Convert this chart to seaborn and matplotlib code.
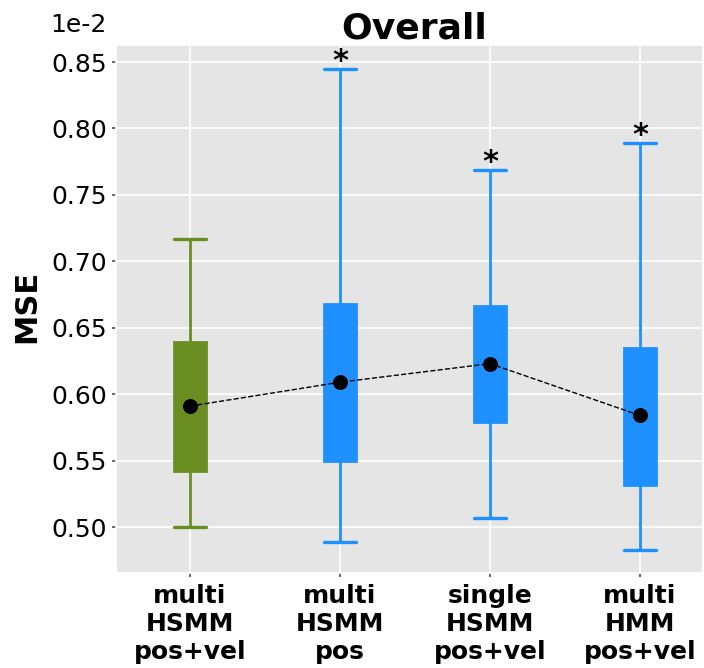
import pandas as pd
import seaborn as sns
import matplotlib.pyplot as plt

# values are in units of 1e-2
methods = ["multi\nHSMM\npos+vel", "multi\nHSMM\npos", "single\nHSMM\npos+vel", "multi\nHMM\npos+vel"]
whisker_low = [0.500, 0.489, 0.507, 0.483]
q1 = [0.542, 0.550, 0.579, 0.532]
q3 = [0.639, 0.668, 0.666, 0.635]
whisker_high = [0.717, 0.845, 0.769, 0.789]
means = [0.591, 0.609, 0.623, 0.584]
significant = [False, True, True, True]
colors = ["#6B8E23", "#1E90FF", "#1E90FF", "#1E90FF"]

# five-number rows per method so the box edges land on the quartiles
rows = []
for m, lo, a, b, hi in zip(methods, whisker_low, q1, q3, whisker_high):
    for v in [lo, a, (a + b) / 2, b, hi]:
        rows.append({"method": m, "mse": v})
df = pd.DataFrame(rows)

sns.set_theme(style="darkgrid", rc={
    "axes.facecolor": "#E5E5E5",
    "grid.color": "white",
    "grid.linewidth": 1.2,
    "xtick.bottom": True,
    "ytick.left": True,
    "xtick.major.size": 3,
    "ytick.major.size": 3,
    "xtick.color": "#555555",
    "ytick.color": "#555555",
    "xtick.labelcolor": "black",
    "ytick.labelcolor": "black",
    "text.color": "black",
    "axes.labelcolor": "black",
})
plt.rcParams['font.family'] = ['DejaVu Sans']

fig = plt.figure(figsize=(7.04, 6.68), dpi=100)
ax = fig.add_axes([0.1648, 0.1422, 0.8338, 0.7904])

for m, c in zip(methods, colors):
    sns.boxplot(
        data=df[df["method"] == m],
        x="method",
        y="mse",
        order=methods,
        color=c,
        linecolor=c,
        saturation=1,
        width=0.21,
        whis=(0, 100),
        linewidth=2,
        medianprops={"visible": False},
        showfliers=False,
        ax=ax,
    )

# caps as wide as the boxes
for line in ax.lines:
    xd = line.get_xdata()
    if len(xd) == 2 and xd[0] != xd[1]:
        mid = (xd[0] + xd[1]) / 2
        line.set_xdata([mid - 0.105, mid + 0.105])
        line.set_linewidth(2.4)

sns.pointplot(
    x=methods,
    y=means,
    order=methods,
    color="black",
    linestyle="--",
    linewidth=1,
    markersize=10,
    markeredgecolor="black",
    errorbar=None,
    zorder=5,
    ax=ax,
)

for i, (top, sig) in enumerate(zip(whisker_high, significant)):
    if sig:
        ax.annotate("*", (i, top), xytext=(0, -5), textcoords="offset points",
                    ha="center", va="bottom", fontsize=22, fontweight="bold")

ax.set_xlim(-0.493, 3.42)
ax.set_ylim(0.4654, 0.8628)
ax.xaxis.grid(True)
ax.yaxis.grid(True)
ax.set_axisbelow(True)
ax.set_yticks([0.50, 0.55, 0.60, 0.65, 0.70, 0.75, 0.80, 0.85])
ax.set_yticklabels([f"{v:.2f}" for v in [0.50, 0.55, 0.60, 0.65, 0.70, 0.75, 0.80, 0.85]])
ax.tick_params(axis="y", labelsize=18)
ax.tick_params(axis="x", labelsize=18, pad=5)
for lab in ax.get_xticklabels():
    lab.set_fontweight("bold")

ax.set_xlabel("")
ax.set_ylabel("MSE", fontsize=22, fontweight="bold")
ax.yaxis.set_label_coords(-0.128, 0.505)
ax.set_title("Overall", fontsize=26, fontweight="bold", pad=5, x=0.508)
fig.text(50 / 704, 1 - 32 / 668, "1e-2", fontsize=18, ha="left", va="baseline")

fig.savefig("out.png", dpi=100)
